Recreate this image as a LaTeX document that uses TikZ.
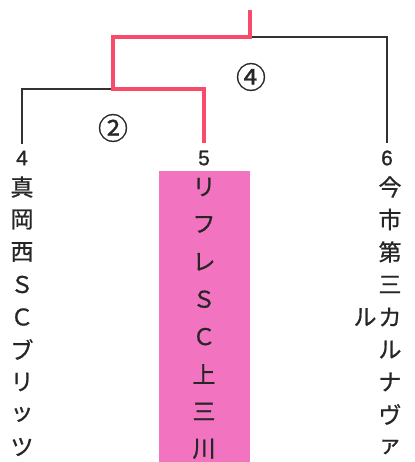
\documentclass[tikz,border=0pt]{standalone}
\usepackage{fontspec}
\setmainfont{Liberation Sans}
\newfontfamily\digitfont[FakeBold=1]{Liberation Sans}
\newfontfamily\jp[FakeBold=0.8]{Noto Sans CJK JP}
\definecolor{winred}{RGB}{248,74,106}
\definecolor{boxpink}{RGB}{242,116,192}
\definecolor{linegray}{RGB}{50,50,50}
\begin{document}
\begin{tikzpicture}[x=1pt,y=-1pt,
  winline/.style={winred,line width=4pt,line join=miter},
  loseline/.style={linegray,line width=1.1pt},
  seed/.style={font=\digitfont\fontsize{21}{21}\selectfont,inner sep=0pt,text=black!85},
  ch/.style={font=\jp\fontsize{23}{23}\selectfont,inner sep=0pt,text=black!85},
  roundno/.style={font=\jp\fontsize{30}{30}\selectfont,inner sep=0pt,text=black!85}]
\useasboundingbox (0,0) rectangle (414,462);
\fill[boxpink] (159,171) rectangle (250,462);
\coordinate (top) at (250,10);
\coordinate (j4) at (250,37);
\coordinate (j2) at (113,89);
\node[seed] (n4) at (22,158) {4};
\node[seed] (n5) at (204,158) {5};
\node[seed] (n6) at (387,158) {6};
\draw[loseline] (j4) -| ([yshift=7pt]n6.north);
\draw[loseline] (j2) -| ([yshift=7pt]n4.north);
\draw[winline] (top) -- (j4) -| (j2) -| ([yshift=7pt]n5.north);
\node[roundno] (r2) at (113,128) {②};
\node[roundno] (r4) at (251,77) {④};
\foreach \c [count=\i] in {真,岡,西,Ｓ,Ｃ,ブ,リ,ッ,ツ}
  \node[ch] (a\i) at (22,{187+(\i-1)*32.5}) {\c};
\foreach \c [count=\i] in {リ,フ,レ,Ｓ,Ｃ,上,三,川}
  \node[ch] (b\i) at (204,{187+(\i-1)*37.4}) {\c};
\foreach \c [count=\i] in {今,市,第,三,カ,ル,ナ,ヴ,ァ}
  \node[ch] (c\i) at (390,{187+(\i-1)*32.5}) {\c};
\node[ch] (c10) at (365,317) {ル};
\end{tikzpicture}
\end{document}
